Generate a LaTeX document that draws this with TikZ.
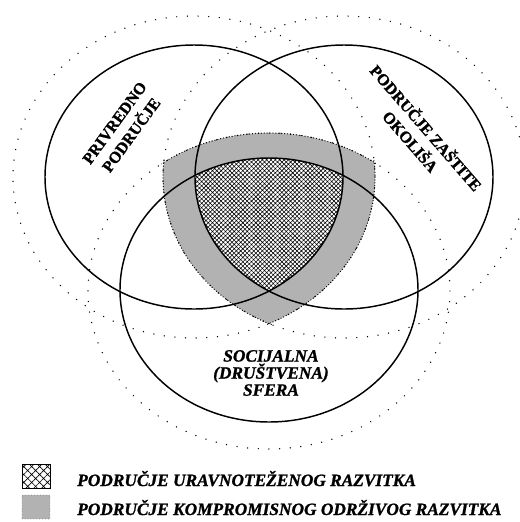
\documentclass[tikz,border=0pt]{standalone}
\usepackage{fontspec}
\setmainfont{Liberation Serif}
\newfontfamily\heavyserif{Liberation Serif}[FakeBold=1.2]
\usetikzlibrary{patterns.meta}
\begin{document}
\begin{tikzpicture}[x=0.75pt,y=-0.75pt,
  solidell/.style={line width=1.1pt},
  sparsedots/.style={line width=1.1pt, line cap=round, dash pattern=on 0pt off 8pt},
  densedots/.style={line width=1.0pt, line cap=round, dash pattern=on 0pt off 2.2pt},
  hatchfill/.style={pattern={Hatch[angle=45,distance=2.3pt,line width=0.42pt]}},
  rlbl/.style={font=\heavyserif\fontsize{12}{15.5}\selectfont\bfseries, align=center, inner sep=0pt},
  ilbl/.style={font=\heavyserif\fontsize{13}{12.8}\selectfont\bfseries\itshape, align=center, inner sep=0pt},
]
\useasboundingbox (0,0) rectangle (520,522);
% gray compromise region = intersection of dotted ellipses
\begin{scope}
  \clip (194,177) ellipse [x radius=181, y radius=161];
  \clip (344,177) ellipse [x radius=181, y radius=161];
  \fill[black!30] (269,291) ellipse [x radius=181, y radius=158];
\end{scope}
% dense dotted boundary of gray region
\begin{scope}
  \clip (344,177) ellipse [x radius=183, y radius=163];
  \clip (269,291) ellipse [x radius=183, y radius=160];
  \draw[densedots] (194,177) ellipse [x radius=181, y radius=161];
\end{scope}
\begin{scope}
  \clip (194,177) ellipse [x radius=183, y radius=163];
  \clip (269,291) ellipse [x radius=183, y radius=160];
  \draw[densedots] (344,177) ellipse [x radius=181, y radius=161];
\end{scope}
\begin{scope}
  \clip (194,177) ellipse [x radius=183, y radius=163];
  \clip (344,177) ellipse [x radius=183, y radius=163];
  \draw[densedots] (269,291) ellipse [x radius=181, y radius=158];
\end{scope}
% balanced region = intersection of solid ellipses
\begin{scope}
  \clip (194,177) ellipse [x radius=149, y radius=132];
  \clip (344,177) ellipse [x radius=149, y radius=132];
  \fill[white] (269,290) ellipse [x radius=149, y radius=132];
  \fill[hatchfill] (269,290) ellipse [x radius=149, y radius=132];
\end{scope}
% sparse dotted ellipses
\begin{scope}
  \clip (0,0) rectangle (520,522);
  \draw[sparsedots] (194,177) ellipse [x radius=181, y radius=161];
  \draw[sparsedots] (344,177) ellipse [x radius=181, y radius=161];
  \draw[sparsedots] (269,291) ellipse [x radius=181, y radius=158];
\end{scope}
% solid ellipses
\draw[solidell] (194,177) ellipse [x radius=149, y radius=132];
\draw[solidell] (344,177) ellipse [x radius=149, y radius=132];
\draw[solidell] (269,290) ellipse [x radius=149, y radius=132];
% labels
\node (privredno) [rlbl, rotate=54] at (123,129) {PRIVREDNO\\PODRUČJE};
\node (okolis) [rlbl, rotate=-49] at (419,134) {PODRUČJE ZAŠTITE\\OKOLIŠA};
\node (socijalna) [ilbl] at (271,373) {SOCIJALNA\\(DRUŠTVENA)\\SFERA};
% legend
\node (key1) [draw, line width=0.6pt, fill=white, pattern={Hatch[angle=45,distance=4.2pt,line width=0.5pt]}, minimum width=21pt, minimum height=18pt, inner sep=0pt] at (36,476) {};
\node (txt1) [ilbl, anchor=base west] at (77,486) {PODRUČJE URAVNOTEŽENOG RAZVITKA};
\node (key2) [fill=black!30, draw=black!55, densedots, line width=0.6pt, minimum width=21pt, minimum height=18pt, inner sep=0pt] at (36,507) {};
\node (txt2) [ilbl, anchor=base west] at (77,515) {PODRUČJE KOMPROMISNOG ODRŽIVOG RAZVITKA};
\end{tikzpicture}
\end{document}
